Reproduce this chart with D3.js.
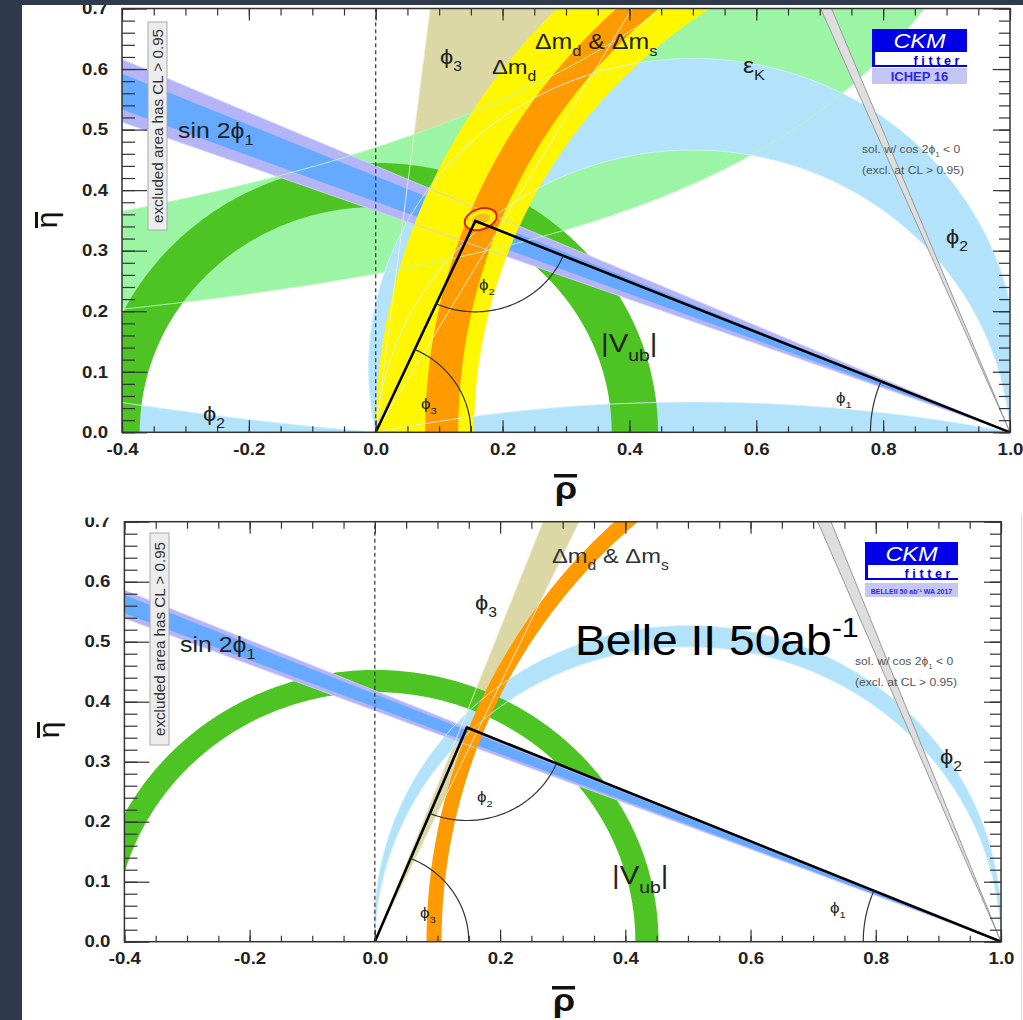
<!DOCTYPE html>
<html><head><meta charset="utf-8">
<script src="https://cdn.jsdelivr.net/npm/d3@7"></script>
<style>body{margin:0;background:#fff;}svg{display:block}</style>
</head><body>
<svg id="c" width="1023" height="1020"></svg>
<script>
// ================= DATA =================
const rhoDomain = [-0.4, 1.0];
const etaDomain = [0.0, 0.7];
const rhoTickValues = [-0.4, -0.2, 0.0, 0.2, 0.4, 0.6, 0.8, 1.0];
const rhoTickLabels = ["-0.4", "-0.2", "0.0", "0.2", "0.4", "0.6", "0.8", "1.0"];
const etaTickValues = [0.0, 0.1, 0.2, 0.3, 0.4, 0.5, 0.6, 0.7];
const etaTickLabels = ["0.0", "0.1", "0.2", "0.3", "0.4", "0.5", "0.6", "0.7"];

// Panel A : ICHEP 16
const aApex = [0.157, 0.349];
const aPhi1Outer = [20.1, 23.75];     // sin2phi1 band edges (deg, seen from (1,0))
const aPhi1Inner = [20.85, 22.93];
const aPhi1Alt = [66.9, 68.1];        // solution with cos2phi1 < 0
const aPhi3 = [60, 83];               // phi3 wedge (deg, from (0,0))
const aPhi2Main = [78, 94];           // phi2 iso-angle arcs (deg)
const aPhi2Flat = [168.6, 185];
const aVub = [0.372, 0.445];          // |Vub| radii
const aDmd = [0.845, 1.0];            // Delta m_d radii around (1,0)
const aDmsInner = [0.870, 0.908];     // Delta m_d & Delta m_s (semi-axes rho, eta)
const aDmsOuter = [0.922, 0.946];
const aEpsKAsym = 1.382;              // eps_K hyperbola asymptote (rho)
const aEpsK = [0.362, 0.650];         // eps_K hyperbola constants
const aFit = [0.1655, 0.352];
const aFitAxes = [0.026, 0.017];

// Panel B : Belle II 50 ab^-1
const bApex = [0.147, 0.357];
const bPhi1Outer = [21.06, 22.71];
const bPhi1Inner = [21.36, 22.43];
const bPhi1Alt = [67.3, 68.8];
const bPhi3 = [65, 69];
const bPhi2Main = [87, 91];
const bVub = [0.416, 0.453];
const bDmsInner = [0.8935, 0.920];
const bDmsOuter = [0.9175, 0.946];

// ================= DRAWING =================
const svg = d3.select("#c");
const FONT = "'Liberation Sans', Arial, Helvetica, sans-serif";
const PHI = "ϕ";
const SX = 1.13;   // horizontal stretch of the pasted picture
const deg = Math.PI / 180;
const COL = {lav:"#b4b4f6", blue:"#66aaff", lblue:"#b2e3fa", gray:"#dedede", grayEdge:"#999",
  green:"#4dc423", epsk:"#9cf5a5", yellow:"#fff700", orange:"#ff9a00", tan:"#dcd8a6"};
const EDGE = {tan:"#eeecd0", epsk:"#b6f9bd", lblue:"#d2f0fd", lav:"#cfcffc"};

svg.append("rect").attr("width",1023).attr("height",1020).attr("fill","#fff");

// geometry helpers (data space)
function ellArc(cx, ab, n = 360) {
  const p = [];
  for (let i = 0; i <= n; i++) { const t = Math.PI * i / n; p.push([cx + ab[0] * Math.cos(t), ab[1] * Math.sin(t)]); }
  return p;
}
function ringPts(cx, inner, outer) { return ellArc(cx, outer).concat(ellArc(cx, inner).reverse()); }
function ray(v, a, L = 4) { return [v, [v[0] + L * Math.cos(a * deg), v[1] + L * Math.sin(a * deg)]]; }
function wedgePts(v, a1, a2) { return [v, ray(v, a1)[1], ray(v, a2)[1]]; }
function alphaArc(aDeg, n = 400) { // iso-angle arc above the axis, from (1,0) to (0,0)
  const c = 0.5 / Math.tan(aDeg * deg), R = Math.hypot(0.5, c), t0 = Math.asin(-c / R);
  const p = [];
  for (let i = 0; i <= n; i++) { const t = t0 + (Math.PI - 2 * t0) * i / n; p.push([0.5 + R * Math.cos(t), c + R * Math.sin(t)]); }
  return p;
}
function alphaSideCurve(aDeg, r0, r1, n = 100) {
  const c = 0.5 / Math.tan(aDeg * deg), R = Math.hypot(0.5, c);
  const p = [];
  for (let i = 0; i <= n; i++) { const r = r0 + (r1 - r0) * i / n; p.push([r, c - Math.sqrt(R * R - (r - 0.5) * (r - 0.5))]); }
  return p;
}
function hyper(asym, k, n = 300) {
  const p = [];
  for (let i = 0; i <= n; i++) { const r = -0.45 + 1.5 * i / n; p.push([r, k / (asym - r)]); }
  return p;
}
function arcPts(c, r, a0, a1, n = 80) {
  const p = [];
  for (let i = 0; i <= n; i++) { const t = (a0 + (a1 - a0) * i / n); p.push([c[0] + r * Math.cos(t), c[1] + r * Math.sin(t)]); }
  return p;
}

function rich(g, px, py, parts, size, fill = "#222", sx = SX, anchor = "start") {
  const t = g.append("text").attr("transform", `translate(${px},${py}) scale(${sx},1)`).attr("font-size", size)
    .attr("fill", fill).attr("font-family", FONT).attr("text-anchor", anchor);
  let shift = 0;
  parts.forEach(([s, kind]) => {
    const sp = t.append("tspan").text(s);
    const target = kind === "sub" ? size * 0.34 : kind === "sup" ? -size * 0.42 : 0;
    sp.attr("dy", target - shift); shift = target;
    if (kind !== "n") sp.attr("font-size", size * 0.66);
  });
  return t;
}

function panel(L, D) {
  const g = svg.append("g");
  const x = d3.scaleLinear().domain(rhoDomain).range([L.left, L.right]);
  const y = d3.scaleLinear().domain(etaDomain).range([L.bottom, L.top]);
  const line = d3.line().x(d => x(d[0])).y(d => y(d[1]));
  const area = p => line(p) + "Z";
  svg.append("clipPath").attr("id", "clip" + L.id).append("rect")
    .attr("x", L.left).attr("y", L.top).attr("width", L.right - L.left).attr("height", L.bottom - L.top);
  const pl = g.append("g").attr("clip-path", `url(#clip${L.id})`);
  const fill = (p, c) => pl.append("path").attr("d", area(p)).attr("fill", c);
  const edges = [];

  // phi3
  fill(wedgePts([0, 0], D.phi3[0], D.phi3[1]), COL.tan);
  edges.push([ray([0, 0], D.phi3[0]), EDGE.tan], [ray([0, 0], D.phi3[1]), EDGE.tan]);
  // eps K
  if (D.epsK) {
    fill(hyper(D.epsKAsym, D.epsK[0]).concat(hyper(D.epsKAsym, D.epsK[1]).reverse()), COL.epsk);
    edges.push([hyper(D.epsKAsym, D.epsK[0]), EDGE.epsk], [hyper(D.epsKAsym, D.epsK[1]), EDGE.epsk]);
  }
  // phi2
  fill(alphaArc(D.phi2Main[0]).concat(alphaArc(D.phi2Main[1]).reverse()), COL.lblue);
  edges.push([alphaArc(D.phi2Main[0]), EDGE.lblue], [alphaArc(D.phi2Main[1]), EDGE.lblue]);
  if (D.phi2Flat) {
    fill(alphaArc(D.phi2Flat[0]), COL.lblue);
    const side = alphaSideCurve(D.phi2Flat[1], -0.45, 0);
    fill(side.concat([[0, 0], [-0.45, 0]]), COL.lblue);
    edges.push([alphaArc(D.phi2Flat[0]), EDGE.lblue], [side, EDGE.lblue]);
  }
  // Vub
  fill(ringPts(0, [D.vub[0], D.vub[0]], [D.vub[1], D.vub[1]]), COL.green);
  // sin2phi1
  fill(wedgePts([1, 0], 180 - D.phi1Outer[0], 180 - D.phi1Outer[1]), COL.lav);
  fill(wedgePts([1, 0], 180 - D.phi1Inner[0], 180 - D.phi1Inner[1]), COL.blue);
  edges.push([ray([1, 0], 180 - D.phi1Outer[0]), EDGE.lav], [ray([1, 0], 180 - D.phi1Outer[1]), EDGE.lav]);
  // Delta md
  if (D.dmd) fill(ringPts(1, [D.dmd[0], D.dmd[0]], [D.dmd[1], D.dmd[1]]), COL.yellow);
  fill(ringPts(1, D.dmsInner, D.dmsOuter), COL.orange);
  // thin contour lines of the constraints
  edges.forEach(([p, c]) => pl.append("path").attr("d", line(p)).attr("fill", "none").attr("stroke", c).attr("stroke-width", 1).attr("opacity", 0.9));
  // cos2phi1<0 solution
  pl.append("path").attr("d", area(wedgePts([1, 0], 180 - D.phi1Alt[0], 180 - D.phi1Alt[1])))
    .attr("fill", COL.gray).attr("stroke", COL.grayEdge).attr("stroke-width", 1);
  // fit ellipse
  if (D.fit) {
    const cx = x(D.fit[0]), cy = y(D.fit[1]);
    const rx = x(D.fit[0] + D.fitAxes[0]) - cx, ry = cy - y(D.fit[1] + D.fitAxes[1]);
    pl.append("ellipse").attr("cx", cx).attr("cy", cy).attr("rx", rx).attr("ry", ry)
      .attr("transform", `rotate(-18 ${cx} ${cy})`).attr("fill", "#ffec00").attr("stroke", "#e02020").attr("stroke-width", 2);
    pl.append("ellipse").attr("cx", cx).attr("cy", cy).attr("rx", rx * 0.55).attr("ry", ry * 0.5)
      .attr("transform", `rotate(-18 ${cx} ${cy})`).attr("fill", "#f2b020").attr("opacity", 0.8);
  }
  // dashed rho=0
  pl.append("path").attr("d", line([[0, 0], [0, 0.7]])).attr("stroke", "#333").attr("stroke-width", 1.2).attr("stroke-dasharray", "4,3");
  // triangle
  pl.append("path").attr("d", line([[0, 0], D.apex, [1, 0]])).attr("fill", "none").attr("stroke", "#000").attr("stroke-width", 2.6);
  // angle arcs
  const A = D.apex;
  const arcS = p => pl.append("path").attr("d", line(p)).attr("fill", "none").attr("stroke", "#333").attr("stroke-width", 1.2);
  arcS(arcPts([0, 0], 0.15, 0, Math.atan2(A[1], A[0])));
  arcS(arcPts(A, D.phi2R, Math.atan2(-A[1], -A[0]), Math.atan2(-A[1], 1 - A[0])));
  arcS(arcPts([1, 0], 0.22, Math.atan2(A[1], A[0] - 1), Math.PI));

  // axes
  const ax = g.append("g");
  const styleAx = sel => { sel.select(".domain").remove(); sel.selectAll("line").attr("stroke", "#333").attr("stroke-width", 1.2);
    sel.attr("font-family", FONT).attr("font-size", 16.5).attr("font-weight", "bold");
    sel.selectAll("text").attr("fill", "#222").attr("transform", `scale(${SX},1)`); };
  const minorX = d3.range(29).map(i => -0.4 + i * 0.05);
  const minorY = d3.range(36).map(i => i * 0.02);
  ax.append("g").attr("transform", `translate(0,${L.bottom})`).call(d3.axisBottom(x).tickValues(minorX).tickSize(-6).tickFormat("")).call(styleAx);
  ax.append("g").attr("transform", `translate(0,${L.bottom})`).call(d3.axisBottom(x).tickValues(rhoTickValues).tickSize(-12).tickPadding(11).tickFormat((d, i) => rhoTickLabels[i])).call(styleAx);
  ax.append("g").attr("transform", `translate(0,${L.top})`).call(d3.axisTop(x).tickValues(minorX).tickSize(-7).tickFormat("")).call(styleAx);
  ax.append("g").attr("transform", `translate(0,${L.top})`).call(d3.axisTop(x).tickValues(rhoTickValues).tickSize(-12).tickFormat("")).call(styleAx);
  ax.append("g").attr("transform", `translate(${L.left},0)`).call(d3.axisLeft(y).tickValues(minorY).tickSize(-13).tickFormat("")).call(styleAx);
  const yl = ax.append("g").attr("transform", `translate(${L.left},0)`).call(d3.axisLeft(y).tickValues(etaTickValues).tickSize(-25).tickPadding(14).tickFormat((d, i) => etaTickLabels[i])).call(styleAx);
  yl.selectAll("text").attr("x", -14 / SX);
  ax.append("g").attr("transform", `translate(${L.right},0)`).call(d3.axisRight(y).tickValues(minorY).tickSize(-11).tickFormat("")).call(styleAx);
  ax.append("g").attr("transform", `translate(${L.right},0)`).call(d3.axisRight(y).tickValues(etaTickValues).tickSize(-17).tickFormat("")).call(styleAx);
  g.append("rect").attr("x", L.left).attr("y", L.top).attr("width", L.right - L.left).attr("height", L.bottom - L.top)
    .attr("fill", "none").attr("stroke", "#333").attr("stroke-width", 1.5);

  // axis titles
  g.append("text").attr("transform", `translate(${L.rhoX},${L.rhoY}) scale(${SX},1)`).attr("text-anchor", "middle").attr("font-family", FONT)
    .attr("font-weight", "bold").attr("font-size", 32).attr("fill", "#111").text("ρ");
  g.append("rect").attr("x", L.rhoX - 12).attr("y", L.rhoY - 25).attr("width", 23).attr("height", 3.5).attr("fill", "#111");
  const et = g.append("g").attr("transform", `translate(${L.etaX},${L.etaY}) rotate(-90)`);
  et.append("text").attr("x", 0).attr("y", 0).attr("text-anchor", "middle").attr("font-family", FONT)
    .attr("font-size", 30).attr("fill", "#111").text("η");
  et.append("rect").attr("x", -8).attr("y", -22).attr("width", 16).attr("height", 3).attr("fill", "#111");

  // excluded box
  g.append("rect").attr("x", L.boxX).attr("y", L.boxY0).attr("width", 19).attr("height", L.boxY1 - L.boxY0)
    .attr("fill", "#ececec").attr("stroke", "#aaa").attr("stroke-width", 1);
  g.append("text").attr("transform", `translate(${L.boxX + 14.5},${(L.boxY0 + L.boxY1) / 2}) rotate(-90)`)
    .attr("text-anchor", "middle").attr("font-family", FONT).attr("font-size", 15.2).attr("fill", "#333")
    .text("excluded area has CL > 0.95");
  // solution text
  rich(g, L.solX, L.solY, [["sol. w/ cos 2" + PHI, "n"], ["1", "sub"], [" < 0", "n"]], 11, "#555", 1.1);
  rich(g, L.solX, L.solY + 21, [["(excl. at CL > 0.95)", "n"]], 11, "#555", 1.1);
  // logo
  const lg = g.append("g");
  const lx = L.logoX, ly = L.logoY, lw = L.logoW;
  lg.append("rect").attr("x", lx).attr("y", ly).attr("width", lw).attr("height", 23).attr("fill", "#0000e6");
  lg.append("text").attr("transform", `translate(${lx + lw / 2},${ly + 18.5}) scale(1.12,1)`).attr("text-anchor", "middle").attr("fill", "#fff")
    .attr("font-style", "italic").attr("font-family", FONT).attr("font-size", 21).text("CKM");
  lg.append("rect").attr("x", lx).attr("y", ly + 23).attr("width", lw).attr("height", 15).attr("fill", "#fff");
  lg.append("rect").attr("x", lx).attr("y", ly + 23).attr("width", 3).attr("height", 15).attr("fill", "#0000e6");
  lg.append("rect").attr("x", lx).attr("y", ly + 36).attr("width", lw).attr("height", 2).attr("fill", "#0000e6");
  lg.append("text").attr("x", lx + lw - 4).attr("y", ly + 35.5).attr("text-anchor", "end").attr("fill", "#0000e6")
    .attr("font-weight", "bold").attr("font-family", FONT).attr("font-size", 12.5).attr("letter-spacing", 3.6).text("fitter");
  lg.append("rect").attr("x", lx).attr("y", ly + L.capOff).attr("width", lw).attr("height", L.capH).attr("fill", "#c6c6f4");
  lg.append("text").attr("x", lx + lw / 2).attr("y", ly + L.capOff + L.capH - 3.5).attr("text-anchor", "middle")
    .attr("fill", "#2a2ae6").attr("font-weight", "bold").attr("font-family", FONT).attr("font-size", L.capSize).text(L.caption);

  return g;
}

const layoutA = {id: "A", left: 122, right: 1010, top: 8.5, bottom: 432.3, rhoX: 566, rhoY: 499, etaX: 57, etaY: 220,
  boxX: 148, boxY0: 22, boxY1: 230, solX: 862, solY: 153, logoX: 872, logoY: 29, logoW: 95, capOff: 39, capH: 16,
  caption: "ICHEP 16", capSize: 13};
const layoutB = {id: "B", left: 124.4, right: 1001, top: 521.7, bottom: 941.7, rhoX: 564, rhoY: 1011, etaX: 59, etaY: 730,
  boxX: 150, boxY0: 533, boxY1: 745, solX: 855, solY: 665, logoX: 865, logoY: 542, logoW: 93, capOff: 41, capH: 14,
  caption: "BELLEII 50 ab⁻¹ WA 2017", capSize: 7};

const gA = panel(layoutA, {apex: aApex, phi1Outer: aPhi1Outer, phi1Inner: aPhi1Inner, phi1Alt: aPhi1Alt, phi3: aPhi3,
  phi2Main: aPhi2Main, phi2Flat: aPhi2Flat, vub: aVub, dmd: aDmd, dmsInner: aDmsInner, dmsOuter: aDmsOuter,
  epsK: aEpsK, epsKAsym: aEpsKAsym, fit: aFit, fitAxes: aFitAxes, phi2R: 0.15});
const gB = panel(layoutB, {apex: bApex, phi1Outer: bPhi1Outer, phi1Inner: bPhi1Inner, phi1Alt: bPhi1Alt, phi3: bPhi3,
  phi2Main: bPhi2Main, vub: bVub, dmsInner: bDmsInner, dmsOuter: bDmsOuter, phi2R: 0.155});

// labels panel A
rich(gA, 178, 138, [["sin 2" + PHI, "n"], ["1", "sub"]], 22);
rich(gA, 440, 64, [[PHI, "n"], ["3", "sub"]], 21);
rich(gA, 492, 74, [["Δm", "n"], ["d", "sub"]], 21);
rich(gA, 535, 49, [["Δm", "n"], ["d", "sub"], [" & Δm", "n"], ["s", "sub"]], 22);
rich(gA, 743, 73, [["ε", "n"], ["K", "sub"]], 22);
rich(gA, 946, 244, [[PHI, "n"], ["2", "sub"]], 21);
rich(gA, 203, 421, [[PHI, "n"], ["2", "sub"]], 21);
rich(gA, 479, 290, [[PHI, "n"], ["2", "sub"]], 15);
rich(gA, 421, 409, [[PHI, "n"], ["3", "sub"]], 15);
rich(gA, 836, 403, [[PHI, "n"], ["1", "sub"]], 15);
rich(gA, 601, 352, [["|V", "n"], ["ub", "sub"], ["|", "n"]], 26);
// labels panel B
rich(gB, 180, 652, [["sin 2" + PHI, "n"], ["1", "sub"]], 22);
rich(gB, 475, 610, [[PHI, "n"], ["3", "sub"]], 21);
rich(gB, 552, 563, [["Δm", "n"], ["d", "sub"], [" & Δm", "n"], ["s", "sub"]], 21, "#333");
rich(gB, 575, 655, [["Belle II 50ab", "n"], ["-1", "sup"]], 42, "#000", 1.1);
rich(gB, 940, 764, [[PHI, "n"], ["2", "sub"]], 21);
rich(gB, 477, 802, [[PHI, "n"], ["2", "sub"]], 15);
rich(gB, 420, 918, [[PHI, "n"], ["3", "sub"]], 15);
rich(gB, 830, 913, [[PHI, "n"], ["1", "sub"]], 15);
rich(gB, 612, 884, [["|V", "n"], ["ub", "sub"], ["|", "n"]], 26);

// image crop between the two pictures, slide frame
svg.append("rect").attr("x", 60).attr("y", 508).attr("width", 61).attr("height", 9.5).attr("fill", "#fff");
svg.append("rect").attr("x", 1021).attr("y", 515).attr("width", 1).attr("height", 505).attr("fill", "#ddd");
svg.append("rect").attr("x", 0).attr("y", 0).attr("width", 1023).attr("height", 5).attr("fill", "#2f3b4c");
svg.append("rect").attr("x", 0).attr("y", 0).attr("width", 22).attr("height", 1020).attr("fill", "#2f3b4c");
</script></body></html>
